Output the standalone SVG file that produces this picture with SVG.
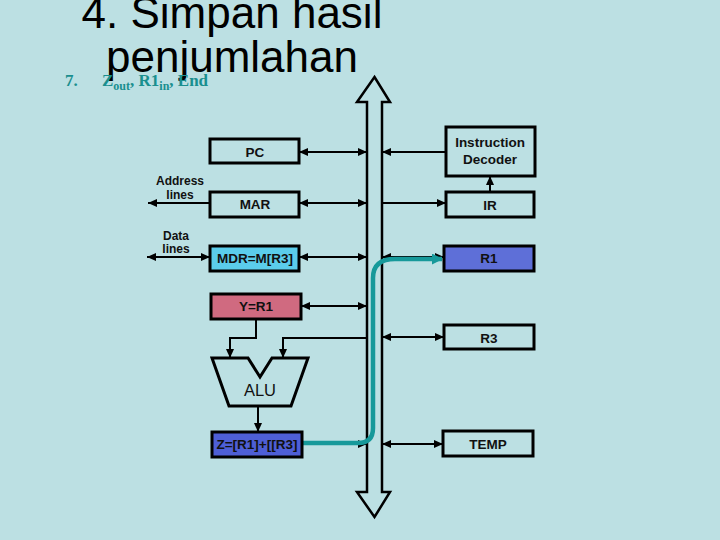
<svg xmlns="http://www.w3.org/2000/svg" width="720" height="540" viewBox="0 0 720 540">
<defs>
<style>
.bg{fill:#bce0e3}
.box{stroke:#000;stroke-width:3}
.lbl{font-family:"Liberation Sans",Arial,sans-serif;font-weight:bold;font-size:13.5px;text-anchor:middle;fill:#111}
.side{font-family:"Liberation Sans",Arial,sans-serif;font-weight:bold;font-size:12px;text-anchor:middle;fill:#111}
.con{fill:none;stroke:#000;stroke-width:2}
.title{font-family:"Liberation Sans",Arial,sans-serif;font-size:44px;text-anchor:middle;fill:#000}
.step{font-family:"Liberation Serif","Times New Roman",serif;font-weight:bold;font-size:17px;fill:#1a8f8f}
</style>
<marker id="ah" markerWidth="9" markerHeight="8" refX="9" refY="4" orient="auto-start-reverse" markerUnits="userSpaceOnUse">
<path d="M0,0 L9,4 L0,8 z" fill="#000"/>
</marker>
<marker id="th" markerWidth="11" markerHeight="11" refX="10" refY="5.5" orient="auto" markerUnits="userSpaceOnUse">
<path d="M0,0 L11,5.5 L0,11 z" fill="#16999a"/>
</marker>
</defs>
<rect class="bg" x="0" y="0" width="720" height="540"/>

<g id="title">
<text class="title" x="232" y="28">4. Simpan hasil</text>
<text class="title" x="232" y="72">penjumlahan</text>
</g>
<g id="step">
<text class="step" x="65" y="86">7.</text>
<text class="step" x="102" y="86">Z<tspan font-size="12" dy="4">out</tspan><tspan dy="-4">, R1</tspan><tspan font-size="12" dy="4">in</tspan><tspan dy="-4">, End</tspan></text>
</g>

<g id="bus">
<polygon points="374.5,77 390,102 382,102 382,492 390,492 374.5,517 357,492 367,492 367,102 357,102" fill="#bce0e3" stroke="#000" stroke-width="2.5"/>
</g>

<g id="connectors">
<path class="con" d="M299,152 H367" marker-start="url(#ah)" marker-end="url(#ah)"/>
<path class="con" d="M446,152 H382" marker-end="url(#ah)"/>
<path class="con" d="M210,203 H148" marker-end="url(#ah)"/>
<path class="con" d="M299,203 H367" marker-start="url(#ah)" marker-end="url(#ah)"/>
<path class="con" d="M382,203 H446" marker-end="url(#ah)"/>
<path class="con" d="M490,192 V176" marker-end="url(#ah)"/>
<path class="con" d="M147,257 H210" marker-start="url(#ah)" marker-end="url(#ah)"/>
<path class="con" d="M299,257 H367" marker-start="url(#ah)" marker-end="url(#ah)"/>
<path class="con" d="M382,257 H444" marker-start="url(#ah)" marker-end="url(#ah)"/>
<path class="con" d="M301,306 H367" marker-start="url(#ah)" marker-end="url(#ah)"/>
<path class="con" d="M256,319 V338 H230 V358" marker-end="url(#ah)"/>
<path class="con" d="M367,338 H283 V358" marker-end="url(#ah)"/>
<path class="con" d="M382,337 H444" marker-start="url(#ah)" marker-end="url(#ah)"/>
<path class="con" d="M258,406 V432" marker-end="url(#ah)"/>
<path class="con" d="M302,444 H367" marker-end="url(#ah)"/>
<path class="con" d="M382,444 H443" marker-start="url(#ah)" marker-end="url(#ah)"/>
<path d="M302,443 H358 Q373,443 373,428 V278 Q373,259 395,259 H442" fill="none" stroke="#16999a" stroke-width="4.5" marker-end="url(#th)"/>
</g>

<g id="pc"><rect class="box bg" x="210" y="139" width="89" height="24"/><text class="lbl" x="255" y="157">PC</text></g>
<g id="mar"><rect class="box bg" x="210" y="192" width="89" height="25"/><text class="lbl" x="255" y="209">MAR</text></g>
<g id="mdr"><rect class="box" fill="#5bcdeb" x="210" y="246" width="89" height="25"/><text class="lbl" x="255" y="263">MDR=M[R3]</text></g>
<g id="address-lines"><text class="side" x="180" y="185">Address</text><text class="side" x="180" y="199">lines</text></g>
<g id="data-lines"><text class="side" x="176" y="240">Data</text><text class="side" x="176" y="253">lines</text></g>
<g id="decoder"><rect class="box bg" x="446" y="127" width="89" height="49"/><text class="lbl" x="490" y="147" font-size="14">Instruction</text><text class="lbl" x="490" y="164" font-size="14">Decoder</text></g>
<g id="ir"><rect class="box bg" x="446" y="192" width="88" height="25"/><text class="lbl" x="490" y="210">IR</text></g>
<g id="r1"><rect class="box" fill="#5e6fd8" x="444" y="246" width="90" height="25"/><text class="lbl" x="489" y="263" fill="#101050">R1</text></g>
<g id="r3"><rect class="box bg" x="444" y="325" width="90" height="24"/><text class="lbl" x="489" y="343">R3</text></g>
<g id="temp"><rect class="box bg" x="443" y="431" width="90" height="25"/><text class="lbl" x="488" y="449">TEMP</text></g>
<g id="y"><rect class="box" fill="#d06a80" x="211" y="294" width="90" height="25"/><text class="lbl" x="256" y="311">Y=R1</text></g>
<g id="alu"><polygon points="212,358 248,358 260,377 272,358 308,358 291,406 229,406" fill="#bce0e3" stroke="#000" stroke-width="3"/><text x="260" y="396" font-family="Liberation Sans,Arial,sans-serif" font-size="16.5" text-anchor="middle" fill="#111">ALU</text></g>
<g id="z"><rect class="box" fill="#4e5fd6" x="212" y="432" width="90" height="25"/><text class="lbl" x="257" y="449" fill="#101050">Z=[R1]+[[R3]</text></g>
</svg>
